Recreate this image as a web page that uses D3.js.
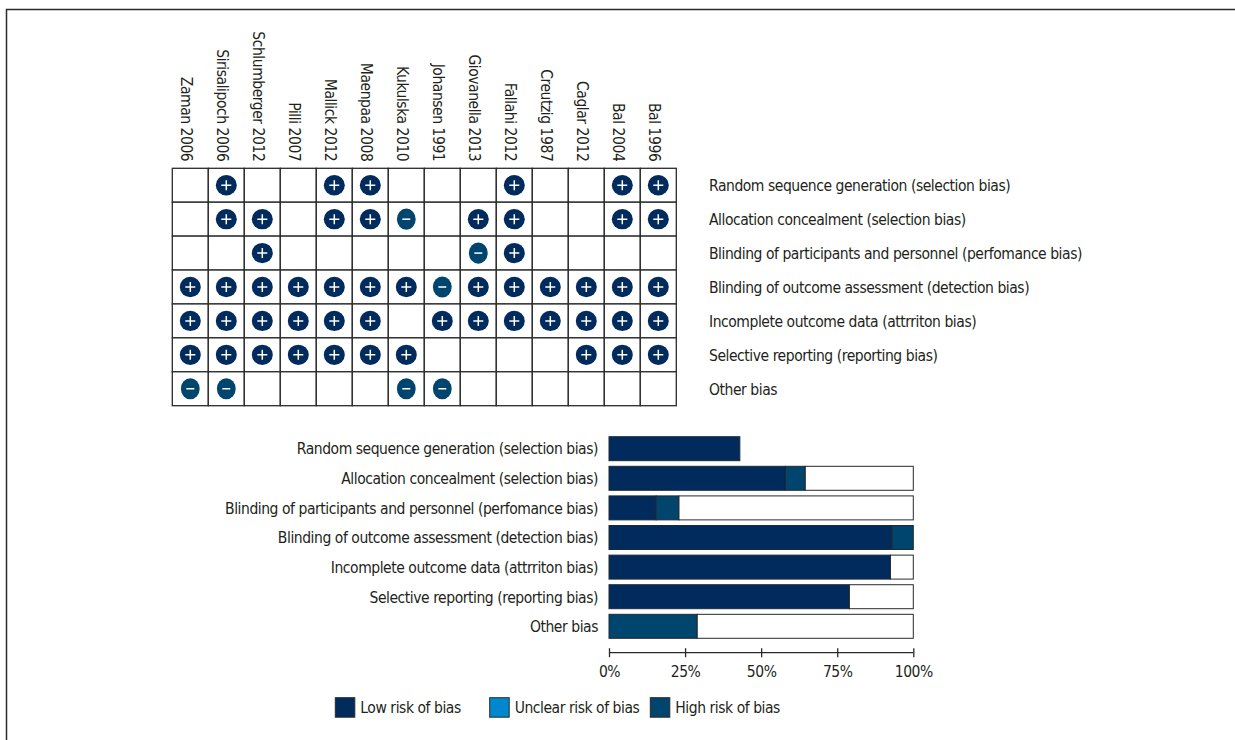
<!DOCTYPE html>
<html>
<head>
<meta charset="utf-8">
<script src="https://cdn.jsdelivr.net/npm/d3@7/dist/d3.min.js"></script>
<style>
  html, body { margin: 0; padding: 0; background: #fff; }
  svg { display: block; }
  text { font-family: "DejaVu Sans Condensed", "DejaVu Sans", sans-serif; font-stretch: condensed; fill: #231f20; letter-spacing: -0.45px; }
</style>
</head>
<body>
<svg id="chart" width="1235" height="740"></svg>
<script>
// studies, left to right as in the summary grid
const studies = [
  'Zaman 2006', 'Sirisalipoch 2006', 'Schlumberger 2012', 'Pilli 2007',
  'Mallick 2012', 'Maenpaa 2008', 'Kukulska 2010', 'Johansen 1991',
  'Giovanella 2013', 'Fallahi 2012', 'Creutzig 1987', 'Caglar 2012',
  'Bal 2004', 'Bal 1996'
];

const domains = [
  'Random sequence generation (selection bias)',
  'Allocation concealment (selection bias)',
  'Blinding of participants and personnel (perfomance bias)',
  'Blinding of outcome assessment (detection bias)',
  'Incomplete outcome data (attrriton bias)',
  'Selective reporting (reporting bias)',
  'Other bias'
];

// one string per domain, one char per study: + low, - high, . not judged
const judgements = [
  '.+..++...+..++',
  '.++.++-.++..++',
  '..+.....-+....',
  '+++++++-++++++',
  '++++++.+++++++',
  '+++++++....+++',
  '--....--......'
];

// summary bar percentages
const lowPct  = [43, 58, 15.5, 93, 92.5, 79, 0];
const highPct = [0, 6.5, 7.5, 7, 0, 0, 29];
const restPct = [0, 35.5, 77, 0, 7.5, 21, 71];

const xTicks = [0, 25, 50, 75, 100];
const legendItems = ['Low risk of bias', 'Unclear risk of bias', 'High risk of bias'];

const colors = { low: '#002b5c', unclear: '#0088cf', high: '#00456d' };
const lineColor = '#2a2a2a';
const fontSize = '15.5px';

const svg = d3.select('#chart');

// outer frame, runs off the right and bottom edges
svg.append('rect')
    .attr('x', 6.5).attr('y', 9.5)
    .attr('width', 1300).attr('height', 800)
    .attr('fill', 'none')
    .attr('stroke', lineColor)
    .attr('stroke-width', 1.5);

// ---- risk of bias summary grid ----
const col = d3.scaleBand().domain(studies).range([172.3, 676.3]);
const row = d3.scaleBand().domain(domains).range([168.3, 405.7]);

const grid = svg.append('g');

grid.append('g')
  .selectAll('text')
  .data(studies)
  .join('text')
    .attr('transform', d => `translate(${col(d) + col.bandwidth() / 2 - 9.5},${row.range()[0] - 7}) rotate(90)`)
    .attr('text-anchor', 'end')
    .attr('font-size', fontSize)
    .text(d => d);

const cells = [];
judgements.forEach((s, i) => {
  s.split('').forEach((c, j) => cells.push({ domain: domains[i], study: studies[j], mark: c }));
});

grid.append('g')
  .selectAll('rect')
  .data(cells)
  .join('rect')
    .attr('x', d => col(d.study))
    .attr('y', d => row(d.domain))
    .attr('width', col.bandwidth())
    .attr('height', row.bandwidth())
    .attr('fill', '#fff')
    .attr('stroke', lineColor)
    .attr('stroke-width', 1.3);

const marks = grid.append('g')
  .selectAll('g')
  .data(cells.filter(d => d.mark !== '.'))
  .join('g')
    .attr('transform', d => `translate(${col(d.study) + col.bandwidth() / 2},${row(d.domain) + row.bandwidth() / 2})`);

marks.append('ellipse')
    .attr('rx', d => d.mark === '+' ? 10.5 : 9.4)
    .attr('ry', d => d.mark === '+' ? 10.2 : 10.6)
    .attr('fill', d => d.mark === '+' ? colors.low : colors.high);

marks.append('path')
    .attr('d', d => d.mark === '+' ? 'M-5,0H5M0,-5V5' : 'M-4,0H4')
    .attr('stroke', '#fff')
    .attr('stroke-width', 1.5)
    .attr('fill', 'none');

grid.append('g')
  .selectAll('text')
  .data(domains)
  .join('text')
    .attr('x', 709)
    .attr('y', d => row(d) + row.bandwidth() / 2 + 5.8)
    .attr('font-size', fontSize)
    .text(d => d);

// ---- risk of bias graph ----
const x = d3.scaleLinear().domain([0, 100]).range([609, 913.3]);
const y = d3.scaleBand().domain(domains).range([436.7, 638.3]).paddingInner(0.19).paddingOuter(0);

const bars = svg.append('g');
const segs = [];
domains.forEach((d, i) => {
  const parts = [['low', lowPct[i]], ['high', highPct[i]], ['rest', restPct[i]]];
  let acc = 0;
  parts.forEach(([k, v]) => {
    if (v > 0) segs.push({ domain: d, key: k, x0: acc, x1: acc + v });
    acc += v;
  });
});

bars.selectAll('rect')
  .data(segs)
  .join('rect')
    .attr('x', d => x(d.x0))
    .attr('y', d => y(d.domain))
    .attr('width', d => x(d.x1) - x(d.x0))
    .attr('height', y.bandwidth())
    .attr('fill', d => d.key === 'rest' ? '#fff' : colors[d.key])
    .attr('stroke', d => d.key === 'rest' ? lineColor : '#1e2a36')
    .attr('stroke-width', 1);

bars.append('g')
  .selectAll('text')
  .data(domains)
  .join('text')
    .attr('x', 598)
    .attr('y', d => y(d) + y.bandwidth() / 2 + 5.8)
    .attr('text-anchor', 'end')
    .attr('font-size', fontSize)
    .text(d => d);

const axis = svg.append('g')
    .attr('transform', 'translate(0,652.7)')
    .call(d3.axisBottom(x).tickValues(xTicks).tickFormat(d => d + '%').tickSize(4.5).tickPadding(9));
axis.attr('font-family', null).attr('font-size', null);
axis.select('.domain').attr('stroke', lineColor).attr('stroke-width', 1.3).attr('d', `M${x(0)},0H${x(100)}`);
axis.selectAll('.tick line').attr('stroke', lineColor).attr('stroke-width', 1.3).attr('y1', -4.5);
axis.selectAll('.tick text')
    .attr('font-size', fontSize)
    .attr('fill', null);

// ---- legend ----
const legendColor = d3.scaleOrdinal().domain(legendItems).range([colors.low, colors.unclear, colors.high]);
const legendLeft = d3.scaleOrdinal().domain(legendItems).range([335.3, 489.7, 650.3]);

const legend = svg.append('g')
  .selectAll('g')
  .data(legendItems)
  .join('g')
    .attr('transform', d => `translate(${legendLeft(d)},697.7)`);

legend.append('rect')
    .attr('width', 19.5).attr('height', 19.5)
    .attr('fill', d => legendColor(d))
    .attr('stroke', lineColor)
    .attr('stroke-width', 1);

legend.append('text')
    .attr('x', 25)
    .attr('y', 15.5)
    .attr('font-size', fontSize)
    .text(d => d);
</script>
</body>
</html>
